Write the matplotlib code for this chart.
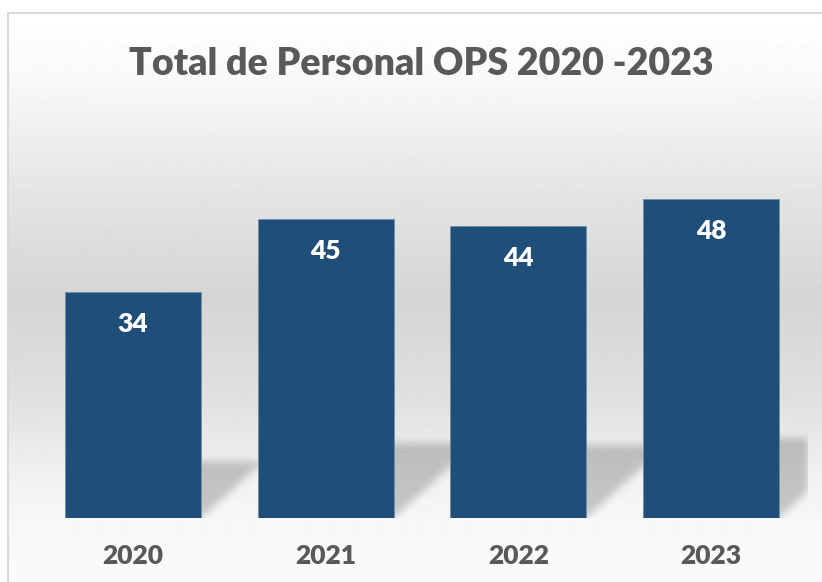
import numpy as np
import matplotlib.pyplot as plt

# --- Data ---
years = ["2020", "2021", "2022", "2023"]
personal = [34, 45, 44, 48]
title = "Total de Personal OPS 2020 -2023"

W, H = 822, 582
BAR_COLOR = "#1F4E79"
TEXT_GREY = "#595959"
FONT = ["Lato", "DejaVu Sans"]
WEIGHT = "heavy"

fig = plt.figure(figsize=(W / 100, H / 100), dpi=100)
fig.patch.set_facecolor("white")

# --- Chart area background (vertical grey gradient + light border) ---
bg = fig.add_axes([8 / W, 0, 1 - 8 / W, (H - 13) / H])
rows = np.arange(13, H)
shade = np.interp(rows, [13, 80, 200, 300, 400, 470, 520, 582],
                  [1.0, 0.975, 0.89, 0.835, 0.88, 0.94, 0.97, 0.98])
bg.imshow(shade[:, None], cmap="gray", vmin=0, vmax=1, aspect="auto",
          extent=(0, 1, 0, 1), interpolation="bilinear")
bg.set_xticks([])
bg.set_yticks([])
for side in ["right", "bottom"]:
    bg.spines[side].set_visible(False)
for side in ["top", "left"]:
    bg.spines[side].set_color("#d9d9d9")
    bg.spines[side].set_linewidth(1.5)

# --- Plot area ---
ymax = 60
ax = fig.add_axes([36.7 / W, (H - 518) / H, 770.7 / W, 398.8 / H])
ax.set_facecolor("none")
x = np.arange(len(years))
bar_w = 0.706

# soft perspective shadow behind each bar
nx, ny = 771, 399
gx = np.linspace(-0.5, 3.5, nx)
gy = np.linspace(0, ymax, ny)
GX, GY = np.meshgrid(gx, gy)
mask = np.zeros_like(GX)
for i, v in zip(x, personal):
    hs = 0.25 * v
    dx = 1.1 * hs * (398.8 / ymax) / (770.7 / 4)
    xl = i - bar_w / 2
    t = GY / hs
    inside = (GY <= hs) & (GX >= xl + t * dx) & (GX <= xl + bar_w + t * dx)
    mask = np.maximum(mask, inside.astype(float))
r = np.arange(-12, 13)
k = np.exp(-0.5 * (r / 4.0) ** 2)
k /= k.sum()
blur = np.apply_along_axis(lambda m: np.convolve(m, k, mode="same"), 1, mask)
blur = np.apply_along_axis(lambda m: np.convolve(m, k, mode="same"), 0, blur)
shadow = np.zeros((ny, nx, 4))
shadow[..., 3] = 0.2 * blur
ax.imshow(shadow, extent=(-0.5, 3.5, 0, ymax), origin="lower", aspect="auto",
          zorder=1, interpolation="bilinear")

ax.bar(x, personal, width=bar_w, color=BAR_COLOR, edgecolor="#6f8fae",
       linewidth=0.6, zorder=3)

for i, v in zip(x, personal):
    ax.annotate(str(v), (i, v), xytext=(0, -28.8), textcoords="offset points",
                ha="center", va="baseline", color="white", fontsize=19,
                fontweight=WEIGHT, family=FONT, zorder=4)

ax.set_xlim(-0.5, 3.5)
ax.set_ylim(0, ymax)
ax.set_xticks(x)
ax.set_xticklabels([])
for i, lab in zip(x, years):
    ax.annotate(lab, (i, 0), xytext=(0, -33.1), textcoords="offset points",
                ha="center", va="baseline", color=TEXT_GREY, fontsize=19,
                fontweight=WEIGHT, family=FONT, annotation_clip=False)
ax.set_yticks([])
ax.tick_params(length=0)
for s in ax.spines.values():
    s.set_visible(False)

fig.text(421.5 / W, 1 - 75 / H, title, ha="center", va="baseline",
         fontsize=27, fontweight=WEIGHT, color=TEXT_GREY, family=FONT)

fig.savefig("out.png", dpi=100)
